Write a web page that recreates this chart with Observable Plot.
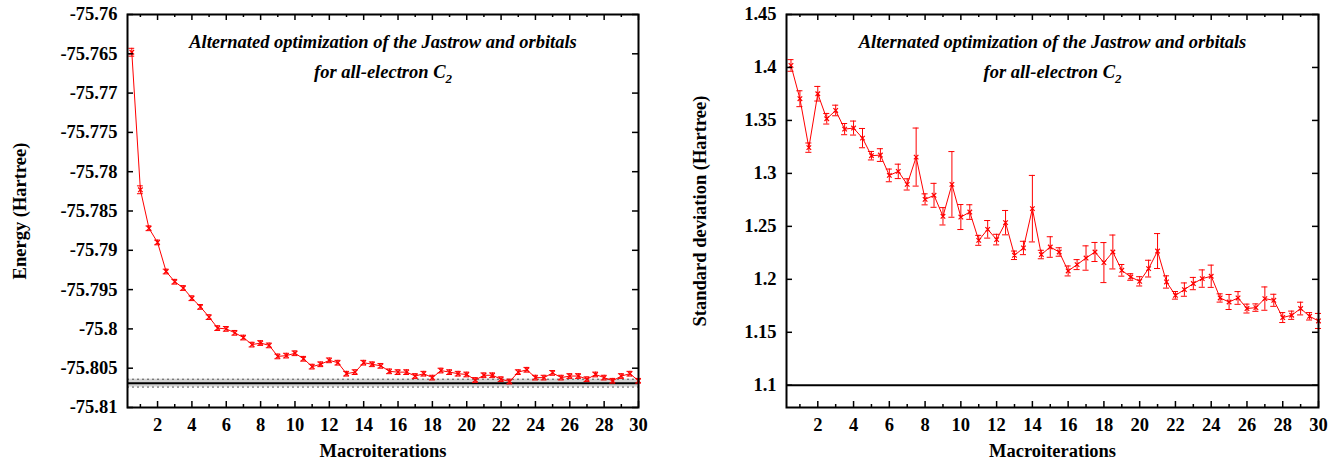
<!DOCTYPE html>
<html><head><meta charset="utf-8">
<script src="https://cdn.jsdelivr.net/npm/d3@7"></script>
<script src="https://cdn.jsdelivr.net/npm/@observablehq/plot@0.6"></script>
<style>
body{margin:0;background:#fff;}
#wrap{display:flex;width:1338px;height:461px;overflow:hidden;}
</style></head><body><div id="wrap"></div>
<script>
const iterations = [0.5,1,1.5,2,2.5,3,3.5,4,4.5,5,5.5,6,6.5,7,7.5,8,8.5,9,9.5,10,
  10.5,11,11.5,12,12.5,13,13.5,14,14.5,15,15.5,16,16.5,17,17.5,18,18.5,19,19.5,20,
  20.5,21,21.5,22,22.5,23,23.5,24,24.5,25,25.5,26,26.5,27,27.5,28,28.5,29,29.5,30];

const energy = [-75.7648,-75.7823,-75.7872,-75.7890,-75.7927,-75.7940,-75.7948,-75.7961,-75.7972,-75.7985,
  -75.7999,-75.8000,-75.8005,-75.8011,-75.8020,-75.8018,-75.8021,-75.8035,-75.8034,-75.8031,
  -75.8038,-75.8048,-75.8045,-75.8040,-75.8043,-75.8057,-75.8055,-75.8043,-75.8045,-75.8047,
  -75.8054,-75.8055,-75.8055,-75.8060,-75.8057,-75.8062,-75.8053,-75.8055,-75.8057,-75.8058,
  -75.8065,-75.8059,-75.8059,-75.8064,-75.8067,-75.8055,-75.8052,-75.8062,-75.8062,-75.8056,
  -75.8062,-75.8060,-75.8060,-75.8064,-75.8058,-75.8062,-75.8066,-75.8060,-75.8057,-75.8066];

const energyErr = [0.0005,0.0005,0.0003,0.0003,0.0003,0.0003,0.0003,0.0003,0.0003,0.0003,
  0.0003,0.0003,0.0003,0.0003,0.0003,0.0003,0.0003,0.0003,0.0003,0.0003,
  0.0003,0.0003,0.0003,0.0003,0.0003,0.0003,0.0003,0.0003,0.0003,0.0003,
  0.0003,0.0003,0.0003,0.0003,0.0003,0.0003,0.0003,0.0003,0.0003,0.0003,
  0.0003,0.0003,0.0003,0.0003,0.0003,0.0003,0.0003,0.0003,0.0003,0.0003,
  0.0003,0.0003,0.0003,0.0003,0.0003,0.0003,0.0003,0.0003,0.0003,0.0003];

const sigma = [1.4019,1.3705,1.3243,1.3752,1.3516,1.3594,1.3418,1.3428,1.3333,1.3167,
  1.3173,1.2981,1.3019,1.2896,1.3154,1.2755,1.2793,1.2595,1.2896,1.2588,
  1.2635,1.2368,1.2472,1.2375,1.2535,1.2227,1.2296,1.2667,1.2234,1.2305,
  1.2258,1.2079,1.2139,1.2201,1.2258,1.2158,1.2258,1.2085,1.2022,1.1981,
  1.2101,1.2267,1.1975,1.1849,1.1903,1.1960,1.2007,1.2029,1.1824,1.1786,
  1.1824,1.1724,1.1733,1.1818,1.1802,1.1639,1.1661,1.1724,1.1651,1.1607];

const sigmaErr = [0.0055,0.0075,0.0044,0.0069,0.005,0.005,0.0053,0.0066,0.0091,0.004,
  0.006,0.006,0.0068,0.0053,0.0274,0.0052,0.0113,0.0082,0.031,0.0118,
  0.0069,0.0047,0.0083,0.005,0.0115,0.004,0.0063,0.0314,0.004,0.0097,
  0.004,0.0047,0.0047,0.0115,0.009,0.0189,0.016,0.0055,0.0031,0.0044,
  0.0079,0.0165,0.0058,0.0036,0.0063,0.0058,0.0082,0.0105,0.0039,0.0071,
  0.006,0.0042,0.0035,0.011,0.0057,0.0047,0.0039,0.006,0.0035,0.0071];

const energyTicks = [-75.81,-75.805,-75.8,-75.795,-75.79,-75.785,-75.78,-75.775,-75.77,-75.765,-75.76];
const sigmaTicks = [1.1,1.15,1.2,1.25,1.3,1.35,1.4,1.45];
const xTicks = [2,4,6,8,10,12,14,16,18,20,22,24,26,28,30];
const xMinorTicks = [1,3,5,7,9,11,13,15,17,19,21,23,25,27,29];
const xDomain = [0.25, 30];
const energyDomain = [-75.81, -75.76];
const sigmaDomain = [1.079, 1.45];
const refEnergy = [{v: -75.8069, e: 0.0005}];
const refSigma = [1.1];
const titleLines = ["Alternated optimization of the Jastrow and orbitals", "for all-electron C\u2082"];
const xLabel = "Macroiterations";
const energyLabel = "Energy (Hartree)";
const sigmaLabel = "Standard deviation (Hartree)";

const FONT = "'Liberation Serif','Times New Roman',serif";
const FS = 18.5;
const H = 461, MT = 14, MB = 54;

function panel({values, errs, yDomain, yTicks, yLabel, width, marginLeft, marginRight, yLabelDx, extra}) {
  const data = iterations.map((x, i) => ({x, y: values[i], e: errs[i]}));
  const fh = H - MT - MB;
  const fw = width - marginLeft - marginRight;
  const cap = 0.17;
  const svg = Plot.plot({
    width, height: H, marginLeft, marginRight, marginTop: MT, marginBottom: MB,
    x: {domain: xDomain},
    y: {domain: yDomain},
    style: {fontFamily: FONT, fontSize: FS + "px", fontWeight: "bold", color: "black", background: "white"},
    marks: [
      ...extra,
      Plot.ruleX(data, {x: "x", y1: d => d.y - d.e, y2: d => d.y + d.e, stroke: "red", strokeWidth: 1}),
      Plot.ruleY(data, {y: d => d.y - d.e, x1: d => d.x - cap, x2: d => d.x + cap, stroke: "red", strokeWidth: 1}),
      Plot.ruleY(data, {y: d => d.y + d.e, x1: d => d.x - cap, x2: d => d.x + cap, stroke: "red", strokeWidth: 1}),
      Plot.line(data, {x: "x", y: "y", stroke: "red", strokeWidth: 1}),
      Plot.dot(data, {x: "x", y: "y", symbol: "times", r: 2.2, stroke: "red", strokeWidth: 1.2}),
      Plot.tickX(xTicks, {x: d => d, insetTop: fh - 6, stroke: "black", strokeWidth: 1.5}),
      Plot.tickX(xTicks, {x: d => d, insetBottom: fh - 6, stroke: "black", strokeWidth: 1.5}),
      Plot.tickX(xMinorTicks, {x: d => d, insetTop: fh - 3, stroke: "black", strokeWidth: 1.5}),
      Plot.tickX(xMinorTicks, {x: d => d, insetBottom: fh - 3, stroke: "black", strokeWidth: 1.5}),
      Plot.tickY(yTicks, {y: d => d, insetRight: fw - 6, stroke: "black", strokeWidth: 1.5}),
      Plot.tickY(yTicks, {y: d => d, insetLeft: fw - 6, stroke: "black", strokeWidth: 1.5}),
      Plot.axisX({ticks: xTicks, tickSize: 0, tickPadding: 10, tickFormat: d => String(d), label: null, fontSize: FS, fontWeight: "bold"}),
      Plot.axisY({ticks: yTicks, tickSize: 0, tickPadding: 10, tickFormat: d => String(d), label: null, fontSize: FS, fontWeight: "bold"}),
      Plot.frame({stroke: "black", strokeWidth: 2}),
      Plot.text([titleLines[0]], {text: d => d, frameAnchor: "top", dy: 28, lineAnchor: "middle", textAnchor: "middle", fontStyle: "italic", fontWeight: "bold", fontSize: FS}),
      Plot.text([titleLines[1]], {text: d => d, frameAnchor: "top", dy: 58, lineAnchor: "middle", textAnchor: "middle", fontStyle: "italic", fontWeight: "bold", fontSize: FS}),
      Plot.text([xLabel], {text: d => d, frameAnchor: "bottom", dy: 44, lineAnchor: "middle", textAnchor: "middle", fontWeight: "bold", fontSize: FS}),
      Plot.text([yLabel], {text: d => d, frameAnchor: "left", dx: yLabelDx, rotate: -90, lineAnchor: "middle", textAnchor: "middle", fontWeight: "bold", fontSize: FS})
    ]
  });
  svg.querySelectorAll("text").forEach(t => {
    if (t.textContent.endsWith("\u2082") && t.childNodes.length === 1) {
      const s = t.textContent.slice(0, -1);
      t.textContent = "";
      t.appendChild(document.createTextNode(s));
      const ts = document.createElementNS("http://www.w3.org/2000/svg", "tspan");
      ts.setAttribute("dy", "5");
      ts.setAttribute("font-size", "13");
      ts.textContent = "2";
      t.appendChild(ts);
    }
  });
  return svg;
}

const wrap = document.getElementById("wrap");
wrap.appendChild(panel({
  values: energy, errs: energyErr, yDomain: energyDomain, yTicks: energyTicks, yLabel: energyLabel,
  width: 669, marginLeft: 127, marginRight: 31, yLabelDx: -107,
  extra: [
    Plot.rect(refEnergy, {y1: d => d.v - d.e, y2: d => d.v + d.e, fill: "#d4d4d4"}),
    Plot.ruleY(refEnergy, {y: d => d.v - d.e, stroke: "#555", strokeWidth: 1, strokeDasharray: "2,3"}),
    Plot.ruleY(refEnergy, {y: d => d.v + d.e, stroke: "#555", strokeWidth: 1, strokeDasharray: "2,3"}),
    Plot.ruleY(refEnergy, {y: d => d.v, stroke: "black", strokeWidth: 2})
  ]
}));
wrap.appendChild(panel({
  values: sigma, errs: sigmaErr, yDomain: sigmaDomain, yTicks: sigmaTicks, yLabel: sigmaLabel,
  width: 669, marginLeft: 117, marginRight: 20, yLabelDx: -86,
  extra: [
    Plot.ruleY(refSigma, {y: d => d, stroke: "black", strokeWidth: 2})
  ]
}));
</script></body></html>
